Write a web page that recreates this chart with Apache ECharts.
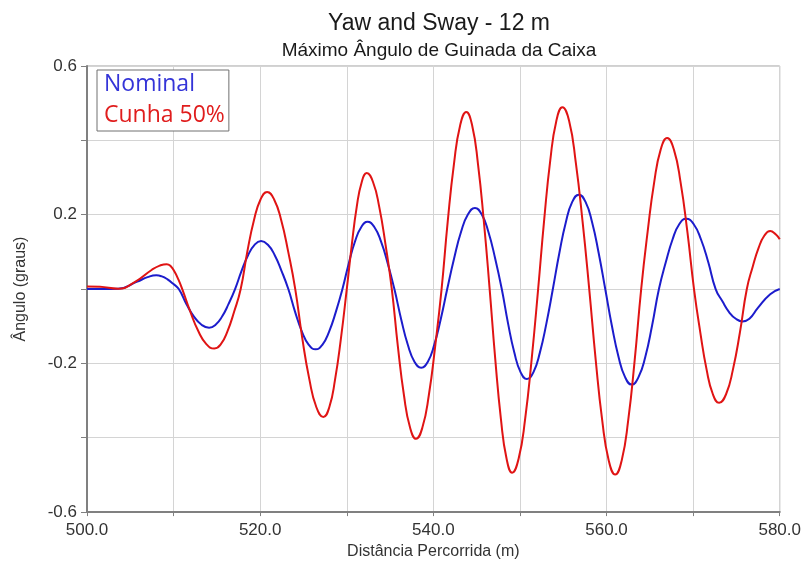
<!DOCTYPE html>
<html>
<head>
<meta charset="utf-8">
<script src="https://cdn.jsdelivr.net/npm/echarts@6/dist/echarts.min.js"></script>
<style>
html,body{margin:0;padding:0;background:#fff;}
#chart{width:804px;height:565px;}
</style>
</head>
<body>
<div id="chart"></div>
<script>
// Distance (m) and angle (degrees)
const nominalX = [500, 502, 503.6, 505.8, 507.0, 508.0,
  508.65, 509.3, 509.95, 510.6, 511.475, 512.35, 513.225, 514.1,
  514.85, 515.6, 516.35, 517.1, 517.85, 518.6, 519.35, 520.1,
  520.89, 521.68, 522.46, 523.25, 524.04, 524.83, 525.61, 526.4,
  527.18, 527.95, 528.73, 529.5, 530.23, 530.95, 531.68, 532.4,
  533.18, 533.95, 534.73, 535.5, 536.28, 537.05, 537.83, 538.6,
  539.35, 540.1, 540.85, 541.6, 542.4, 543.2, 544.0, 544.8,
  545.58, 546.35, 547.13, 547.9, 548.63, 549.35, 550.08, 550.8,
  551.55, 552.3, 553.05, 553.8, 554.55, 555.3, 556.05, 556.8,
  557.56, 558.33, 559.09, 559.85, 560.61, 561.38, 562.14, 562.9,
  563.69, 564.48, 565.26, 566.05, 566.84, 567.63, 568.41, 569.2,
  570.05, 570.9, 571.75, 572.6, 573.38, 574.15, 574.93, 575.7,
  576.5, 577.5, 578.9, 580];
const nominalY = [0.000, 0.000, 0.001, 0.020, 0.032, 0.037,
  0.034, 0.026, 0.014, 0.000, -0.040, -0.074, -0.096, -0.104,
  -0.096, -0.074, -0.040, 0.000, 0.049, 0.091, 0.119, 0.129,
  0.119, 0.091, 0.049, 0.000, -0.062, -0.115, -0.150, -0.162,
  -0.150, -0.115, -0.062, 0.000, 0.069, 0.128, 0.167, 0.181,
  0.167, 0.128, 0.069, 0.000, -0.081, -0.150, -0.196, -0.212,
  -0.196, -0.150, -0.081, 0.000, 0.083, 0.154, 0.201, 0.218,
  0.201, 0.154, 0.083, 0.000, -0.093, -0.171, -0.224, -0.242,
  -0.224, -0.171, -0.093, 0.000, 0.097, 0.180, 0.235, 0.254,
  0.235, 0.180, 0.097, 0.000, -0.098, -0.182, -0.237, -0.257,
  -0.237, -0.182, -0.098, 0.000, 0.072, 0.134, 0.175, 0.189,
  0.175, 0.134, 0.072, 0.000, -0.033, -0.062, -0.080, -0.087,
  -0.080, -0.050, -0.014, 0.000];

const cunhaX = [500, 501.5, 503.6, 505.6, 507.5, 508.4, 509.2,
  509.65, 510.1, 510.55, 511.0, 511.93, 512.85, 513.78, 514.7,
  515.46, 516.23, 516.99, 517.75, 518.51, 519.28, 520.04, 520.8,
  521.61, 522.43, 523.24, 524.05, 524.86, 525.68, 526.49, 527.3,
  527.98, 528.65, 529.33, 530.0, 530.58, 531.15, 531.73, 532.3,
  533.03, 533.75, 534.48, 535.2, 535.9, 536.6, 537.3, 538.0,
  538.74, 539.48, 540.21, 540.95, 541.66, 542.38, 543.09, 543.8,
  544.48, 545.15, 545.83, 546.5, 547.15, 547.8, 548.45, 549.1,
  549.85, 550.6, 551.35, 552.1, 552.8, 553.5, 554.2, 554.9,
  555.68, 556.45, 557.23, 558.0, 558.75, 559.5, 560.25, 561.0,
  561.75, 562.5, 563.25, 564.0, 564.75, 565.5, 566.25, 567.0,
  567.78, 568.55, 569.33, 570.1, 570.83, 571.55, 572.28, 573.0,
  573.8, 574.6, 575.4, 576.2, 576.88, 577.55, 578.23, 578.9,
  579.5, 580];
const cunhaY = [0.007, 0.006, 0.001, 0.020, 0.052, 0.063, 0.067,
  0.062, 0.047, 0.026, 0.000, -0.061, -0.113, -0.148, -0.160,
  -0.148, -0.113, -0.061, 0.000, 0.100, 0.185, 0.241, 0.261,
  0.241, 0.185, 0.100, 0.000, -0.132, -0.243, -0.318, -0.344,
  -0.318, -0.243, -0.132, 0.000, 0.119, 0.221, 0.288, 0.312,
  0.288, 0.221, 0.119, 0.000, -0.154, -0.285, -0.372, -0.403,
  -0.372, -0.285, -0.154, 0.000, 0.182, 0.337, 0.440, 0.476,
  0.440, 0.337, 0.182, 0.000, -0.189, -0.349, -0.456, -0.494,
  -0.456, -0.349, -0.189, 0.000, 0.187, 0.346, 0.452, 0.489,
  0.452, 0.340, 0.182, 0.000, -0.191, -0.353, -0.461, -0.499,
  -0.461, -0.353, -0.191, 0.000, 0.155, 0.287, 0.375, 0.406,
  0.375, 0.287, 0.155, 0.000, -0.117, -0.216, -0.283, -0.306,
  -0.283, -0.216, -0.117, 0.000, 0.060, 0.110, 0.144, 0.156,
  0.148, 0.134];

const seriesNames = ['Nominal', 'Cunha 50%'];
const yLabelValues = [-0.6, -0.2, 0.2, 0.6];
const xLabelValues = [500, 520, 540, 560, 580];

const pairs = (xs, ys) => xs.map((x, i) => [x, ys[i]]);

const chart = echarts.init(document.getElementById('chart'), null, {renderer: 'canvas'});
chart.setOption({
  animation: false,
  backgroundColor: '#ffffff',
  title: [
    {text: 'Yaw and Sway - 12 m', left: 434, top: 7, textAlign: 'center',
     textStyle: {fontFamily: 'Liberation Sans', fontSize: 23, fontWeight: 'normal', color: '#1a1a1a'}},
    {text: 'Máximo Ângulo de Guinada da Caixa', left: 434, top: 36, textAlign: 'center',
     textStyle: {fontFamily: 'Liberation Sans', fontSize: 19, fontWeight: 'normal', color: '#1a1a1a'}}
  ],
  legend: {
    orient: 'vertical', left: 97, top: 70,
    icon: 'none', itemWidth: 0, itemHeight: 10, itemGap: 8,
    padding: [3, 4, 4, 2],
    borderColor: '#707070', borderWidth: 1,
    backgroundColor: '#ffffff',
    textStyle: {fontFamily: 'Open Sans', fontSize: 23},
    data: [
      {name: seriesNames[0], textStyle: {color: '#3434d8'}},
      {name: seriesNames[1], textStyle: {color: '#e01d1d'}}
    ]
  },
  grid: {left: 87, right: 23, top: 66, bottom: 50, show: true, borderColor: '#a0a0a0', borderWidth: 1},
  xAxis: {
    type: 'value', min: 500, max: 580, interval: 10,
    name: 'Distância Percorrida (m)', nameLocation: 'middle', nameGap: 30,
    nameTextStyle: {fontFamily: 'Liberation Sans', fontSize: 16, color: '#333'},
    axisLine: {onZero: false, lineStyle: {color: '#808080', width: 2}},
    axisTick: {show: true, length: 4, lineStyle: {color: '#808080'}},
    axisLabel: {
      fontFamily: 'Liberation Sans', fontSize: 17, color: '#333', margin: 10,
      formatter: v => xLabelValues.includes(Math.round(v)) ? v.toFixed(1) : ''
    },
    splitLine: {show: true, lineStyle: {color: '#d4d4d4', width: 1}}
  },
  yAxis: {
    type: 'value', min: -0.6, max: 0.6, interval: 0.2,
    name: 'Ângulo (graus)', nameLocation: 'middle', nameGap: 58,
    nameTextStyle: {fontFamily: 'Liberation Sans', fontSize: 16, color: '#333'},
    axisLine: {show: true, onZero: false, lineStyle: {color: '#808080', width: 2}},
    axisTick: {show: true, length: 6, lineStyle: {color: '#808080'}},
    axisLabel: {
      fontFamily: 'Liberation Sans', fontSize: 17, color: '#333', margin: 10,
      formatter: v => yLabelValues.some(l => Math.abs(l - v) < 1e-6) ? v.toFixed(1) : ''
    },
    splitLine: {show: true, lineStyle: {color: '#d4d4d4', width: 1}}
  },
  series: [
    {name: seriesNames[0], type: 'line', data: pairs(nominalX, nominalY), smooth: 0.5, smoothConstraint: false,
     showSymbol: false, lineStyle: {color: '#1c1ccc', width: 2}, itemStyle: {color: '#1c1ccc'}},
    {name: seriesNames[1], type: 'line', data: pairs(cunhaX, cunhaY), smooth: 0.5, smoothConstraint: false,
     showSymbol: false, lineStyle: {color: '#e01414', width: 2}, itemStyle: {color: '#e01414'}}
  ]
});
</script>
</body>
</html>
